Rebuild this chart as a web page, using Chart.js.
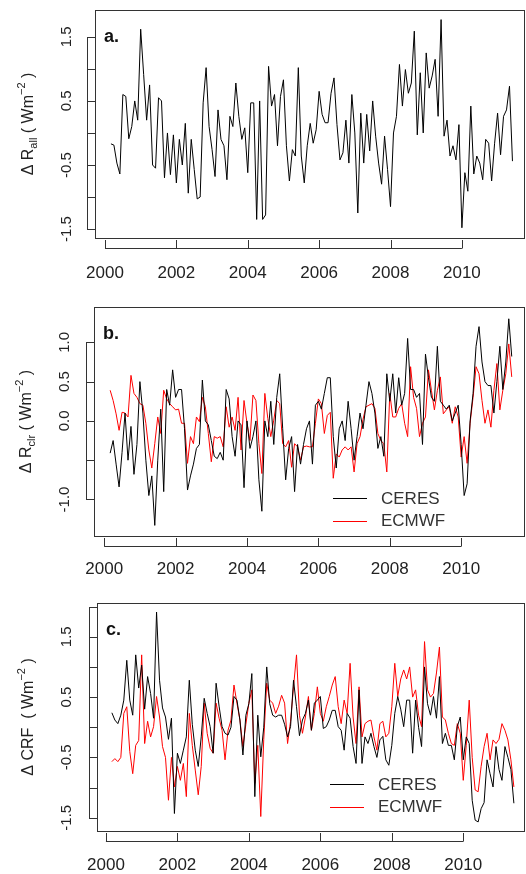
<!DOCTYPE html>
<html>
<head>
<meta charset="utf-8">
<script src="https://cdn.jsdelivr.net/npm/chart.js@4"></script>
<style>
  body { margin: 0; background: #fff; width: 526px; height: 874px; position: relative; overflow: hidden; }
  canvas { position: absolute; left: 0; }
</style>
</head>
<body>
<canvas id="pa" width="526" height="290" style="top:0"></canvas>
<canvas id="pb" width="526" height="290" style="top:290px"></canvas>
<canvas id="pc" width="526" height="294" style="top:580px"></canvas>
<script>
// monthly anomalies, Mar 2000 .. Jun 2011 (136 months)
const startYear = 2000, startMonth = 3;

// a. all-sky
const rAll = [
  -0.17, -0.19, -0.47, -0.64, 0.6, 0.57, -0.09, 0.1, 0.5, 0.2,
  1.62, 0.91, 0.2, 0.75, -0.5, -0.55, 0.55, 0.5, -0.7, 0.0, -0.65, -0.03,
  -0.78, -0.1, -0.5, 0.15, -0.94, -0.1, -0.57, -1.03, -1.0, 0.47, 1.02, 0.1,
  -0.26, -0.68, 0.36, -0.1, -0.2, -0.73, 0.26, 0.1, 0.78, 0.26, -0.1, 0.08,
  -0.62, 0.47, 0.47, -1.35, 0.5, -1.35, -1.28, 1.04, 0.42, 0.6, -0.2, 0.57,
  0.83, -0.2, -0.75, -0.26, -0.36, 1.02, -0.36, -0.78, -0.2, 0.15, -0.16, 0.05,
  0.65, 0.29, 0.16, 0.16, 0.62, 0.86, 0.13, -0.42, -0.31, 0.2, -0.47, 0.6,
  0.0, -1.25, 0.31, -0.47, 0.29, -0.28, 0.5, -0.05, -0.47, -0.8, -0.05, -0.57,
  -1.15, 0.0, 0.26, 1.07, 0.42, 0.99, 0.62, 0.78, 1.59, -0.03, 0.94, 0.0,
  1.25, 0.7, 0.89, 1.15, 0.26, 1.77, -0.05, 0.2, -0.36, -0.2, -0.42, 0.13,
  -1.48, -0.62, -0.91, 0.42, -0.64, -0.36, -0.47, -0.73, -0.1, -0.16, -0.75, -0.16,
  0.31, -0.34, 0.26, 0.36, 0.73, -0.44
];

// b. clear-sky
const clrCeres = [
  -0.41, -0.25, -0.55, -0.84, -0.4, 0.1, -0.5, -0.07, -0.68, -0.3,
  0.5, 0.1, -0.5, -0.95, -0.7, -1.33, -0.5, 0.15, -0.9, 0.4, 0.2, 0.65,
  0.3, 0.4, 0.4, -0.1, -0.88, -0.7, -0.55, -0.35, -0.3, 0.52, 0.0, -0.05,
  -0.25, -0.45, -0.48, -0.4, -0.5, 0.4, 0.28, -0.2, -0.45, 0.0, -0.05, -0.85,
  0.0, -0.35, -0.2, 0.0, -0.75, -1.15, 0.0, -0.2, 0.25, -0.3, 0.3, 0.6,
  -0.1, -0.75, -0.35, -0.2, -0.9, -0.3, -0.55, -0.3, -0.1, 0.0, -0.55, 0.2,
  0.25, 0.15, 0.35, 0.55, 0.55, -0.2, -0.6, -0.1, 0.0, -0.25, 0.25, -0.1,
  -0.5, -0.2, 0.1, -0.1, 0.2, 0.5, 0.35, 0.1, -0.35, -0.2, -0.45, 0.6,
  0.25, 0.6, 0.1, 0.55, 0.2, 0.35, 1.05, 0.4, 0.4, 0.3, 0.35, -0.3,
  0.85, 0.55, 0.3, 0.25, 0.95, 0.25, 0.2, 0.15, 0.2, 0.0, 0.1, 0.2,
  -0.3, -0.95, -0.8, 0.0, 0.35, 0.95, 1.2, 0.75, 0.5, 0.45, 0.45, 0.1,
  0.5, 0.95, 0.4, 0.75, 1.3, 0.82
];
const clrEcmwf = [
  0.39, 0.26, 0.09, -0.12, 0.11, 0.1, 0.05, 0.58, 0.35, 0.3,
  0.22, 0.2, -0.03, -0.37, -0.6, -0.29, 0.05, -0.16, 0.39, 0.28, 0.22, 0.18,
  0.14, 0.15, -0.03, -0.03, -0.54, -0.2, -0.29, 0.05, -0.01, 0.3, 0.18, -0.16,
  -0.52, -0.2, -0.22, -0.2, -0.33, 0.18, -0.08, 0.05, -0.12, 0.3, -0.37, 0.26,
  -0.03, -0.25, 0.33, 0.26, -0.29, -0.67, 0.35, 0.03, -0.2, 0.01, 0.26, 0.22,
  -0.29, -0.33, -0.25, -0.59, -0.29, -0.33, -0.5, -0.33, -0.32, -0.33, -0.33, -0.03,
  0.28, 0.22, -0.16, 0.07, 0.11, -0.73, -0.42, -0.46, -0.37, -0.33, -0.37, -0.33,
  -0.65, -0.29, -0.2, 0.02, 0.18, 0.2, 0.22, 0.16, -0.16, -0.25, -0.29, -0.65,
  0.35, 0.05, 0.05, 0.16, 0.22, -0.03, -0.2, 0.69, 0.3, 0.16, -0.2, -0.03,
  0.05, 0.65, 0.39, 0.14, 0.39, 0.56, 0.09, 0.14, 0.18, -0.03, 0.18, 0.05,
  -0.46, -0.2, -0.54, -0.03, 0.3, 0.69, 0.6, 0.26, -0.03, 0.14, -0.08, 0.39,
  0.73, 0.14, 0.39, 0.6, 0.98, 0.56
];

// c. cloud radiative forcing
const crfCeres = [
  0.24, 0.12, 0.06, 0.2, 0.45, 1.11, 0.45, 0.2, 1.2, 0.65,
  1.03, 0.3, 0.84, 0.56, 0.15, 1.91, 0.78, 0.32, 0.17, -0.2, 0.15, -1.43,
  -0.43, -0.6, -0.38, -0.16, 0.78, 0.05, -0.38, -0.65, -0.16, 0.48, 0.23, 0.01,
  -0.43, 0.73, 0.35, 0.01, -0.1, -0.13, 0.0, 0.51, 0.45, 0.12, -0.46, 0.2,
  0.39, 0.89, -1.15, 0.2, -0.49, 0.0, 1.0, 0.39, 0.2, 0.17, 0.2, 0.2,
  0.05, -0.16, 0.01, 0.78, 0.34, -0.14, 0.12, 0.23, 0.45, -0.05, 0.4, 0.45,
  0.51, -0.02, 0.01, 0.12, 0.28, 0.28, 0.01, -0.05, -0.38, 0.23, 0.15, -0.32,
  -0.6, 0.62, -0.6, -0.16, -0.27, -0.1, -0.32, -0.5, -0.21, -0.15, -0.54, -0.63,
  -0.3, 0.23, 0.51, 0.3, 0.01, 0.45, 0.45, -0.43, 0.45, 0.0, -0.32, 1.0,
  0.39, 0.2, 0.51, 0.15, 0.84, -0.27, -0.1, -0.3, -0.3, -0.54, 0.01, 0.17,
  -0.54, -0.16, -0.27, -1.21, -1.54, -1.57, -1.35, -1.25, -0.54, -0.77, -0.99, -0.32,
  -0.7, -0.88, -0.32, -0.5, -0.7, -1.26
];
const crfEcmwf = [
  -0.57, -0.52, -0.57, -0.5, 0.23, 0.34, -0.4, -0.77, -0.3, -0.22,
  1.2, -0.27, 0.1, -0.16, 0.01, 0.51, 0.17, -0.32, -0.5, -1.21, -0.5, -0.99,
  -0.65, -0.88, -0.6, -1.15, 0.23, -0.3, -0.71, -1.12, -0.65, 0.4, -0.1, -0.35,
  -0.43, 0.4, 0.15, -0.05, -0.54, -0.05, 0.12, 0.7, 0.4, 0.12, -0.32, 0.05,
  0.4, 0.62, -0.93, -0.3, -1.48, -0.2, 0.73, 0.45, 0.4, 0.23, 0.35, 0.53,
  0.4, -0.27, 0.1, 0.67, 1.2, 0.2, -0.1, 0.17, 0.51, -0.05, 0.23, 0.67,
  0.23, 0.1, 0.34, 0.51, 0.7, 0.84, 0.34, 0.06, 0.45, 0.23, 1.06, 0.17,
  -0.27, 0.67, -0.16, 0.06, 0.1, 0.12, -0.16, -0.38, 0.06, 0.1, -0.16, -0.1,
  0.34, 1.06, 0.51, 0.8, 0.95, 0.8, 1.0, 0.5, 0.62, 0.2, 0.01, 1.42,
  0.62, 0.5, 0.56, 0.9, 1.33, 0.17, 0.12, -0.1, -0.27, -0.3, 0.06, -0.1,
  -0.88, -0.3, 0.45, -0.5, -1.04, -1.07, -0.65, -0.32, -0.1, -0.54, -0.21, -0.27,
  -0.2, 0.06, -0.05, -0.21, -0.54, -0.99
];

const yearTicks = [2000, 2002, 2004, 2006, 2008, 2010];
const legendNames = ["CERES", "ECMWF"];

// decimal year of each month
const months = rAll.map((_, i) => startYear + (startMonth - 1 + i) / 12);

const font = '"Liberation Sans", Arial, sans-serif';

function drawTitle(ctx, parts, cx, cy) {
  ctx.save();
  ctx.translate(cx, cy);
  ctx.rotate(-Math.PI / 2);
  ctx.textAlign = "left";
  ctx.textBaseline = "alphabetic";
  const sized = parts.map(p => {
    ctx.font = (p.s ? 11 : 16) + "px " + font;
    return { ...p, w: ctx.measureText(p.t).width };
  });
  let px = -sized.reduce((s, p) => s + p.w, 0) / 2;
  sized.forEach(p => {
    ctx.font = (p.s ? 11 : 16) + "px " + font;
    const dy = p.s === "sub" ? 4 : p.s === "sup" ? -8 : 0;
    ctx.fillText(p.t, px, dy);
    px += p.w;
  });
  ctx.restore();
}

const rAxes = {
  id: "rAxes",
  afterDraw(chart, args, o) {
    const { ctx, chartArea: a, scales: { x, y } } = chart;
    ctx.save();
    ctx.strokeStyle = "#333";
    ctx.fillStyle = "#222";
    ctx.lineWidth = 1;
    ctx.strokeRect(a.left + 0.5, a.top + 0.5, a.right - a.left, a.bottom - a.top);

    // y axis, R style: line set off from the box, ticks pointing in
    const ax = a.left - 8;
    const yTop = Math.round(y.getPixelForValue(o.yTicks[o.yTicks.length - 1])) + 0.5;
    const yBot = Math.round(y.getPixelForValue(o.yTicks[0])) + 0.5;
    ctx.beginPath();
    ctx.moveTo(ax + 0.5, yTop); ctx.lineTo(ax + 0.5, yBot);
    o.yTicks.forEach(v => {
      const py = Math.round(y.getPixelForValue(v)) + 0.5;
      ctx.moveTo(ax, py); ctx.lineTo(a.left, py);
    });
    // x axis
    const ay = a.bottom + 10 + 0.5;
    ctx.moveTo(x.getPixelForValue(yearTicks[0]), ay);
    ctx.lineTo(x.getPixelForValue(yearTicks[yearTicks.length - 1]), ay);
    yearTicks.forEach(v => {
      const px = Math.round(x.getPixelForValue(v)) + 0.5;
      ctx.moveTo(px, ay); ctx.lineTo(px, a.bottom + 2);
    });
    ctx.stroke();

    ctx.font = "15px " + font;
    ctx.textAlign = "center";
    ctx.textBaseline = "middle";
    o.yLabels.forEach(v => {
      ctx.save();
      ctx.translate(o.yLabelX, y.getPixelForValue(v));
      ctx.rotate(-Math.PI / 2);
      ctx.fillText(v.toFixed(1), 0, 0);
      ctx.restore();
    });
    ctx.font = "17px " + font;
    yearTicks.forEach(v => ctx.fillText(String(v), x.getPixelForValue(v), o.xLabelY));

    drawTitle(ctx, o.title, o.titleX, (a.top + a.bottom) / 2);

    ctx.font = "bold 18px " + font;
    ctx.textAlign = "left";
    ctx.textBaseline = "alphabetic";
    ctx.fillStyle = "#111";
    ctx.fillText(o.tag, a.left + 9, a.top + 32);

    if (o.legend) {
      const colors = chart.data.datasets.map(d => d.borderColor);
      ctx.font = "17px " + font;
      ctx.textBaseline = "middle";
      legendNames.forEach((name, i) => {
        const ly = o.legend.y + i * 22.5;
        ctx.strokeStyle = colors[i];
        ctx.beginPath();
        ctx.moveTo(o.legend.x, Math.round(ly) + 0.5);
        ctx.lineTo(o.legend.x + 34, Math.round(ly) + 0.5);
        ctx.stroke();
        ctx.fillStyle = "#333";
        ctx.fillText(name, o.legend.x + 48, ly + 1);
      });
    }
    ctx.restore();
  }
};

function makePanel(id, series, p) {
  new Chart(document.getElementById(id), {
    type: "line",
    data: {
      datasets: series.map(s => ({
        data: s.values.map((v, i) => ({ x: months[i], y: v })),
        borderColor: s.color,
        borderWidth: 1,
        pointRadius: 0,
        tension: 0,
        fill: false
      }))
    },
    options: {
      responsive: false,
      animation: false,
      devicePixelRatio: 1,
      layout: { padding: p.pad },
      plugins: { legend: { display: false }, tooltip: { enabled: false }, rAxes: p },
      scales: {
        x: { type: "linear", min: p.xMin, max: p.xMax, display: false },
        y: { type: "linear", min: p.yMin, max: p.yMax, display: false }
      }
    },
    plugins: [rAxes]
  });
}

makePanel("pa", [{ values: rAll, color: "#000" }], {
  pad: { left: 95, right: 2, top: 10, bottom: 52 },
  xMin: 1999.72, xMax: 2011.74, yMin: -1.64, yMax: 1.92,
  yTicks: [-1.5, -1, -0.5, 0, 0.5, 1, 1.5],
  yLabels: [-1.5, -0.5, 0.5, 1.5],
  yLabelX: 67, xLabelY: 273, titleX: 33, tag: "a.",
  title: [{ t: "\u0394 R" }, { t: "all", s: "sub" }, { t: " ( Wm" }, { t: "\u22122", s: "sup" }, { t: " )" }]
});

makePanel("pb", [{ values: clrCeres, color: "#000" }, { values: clrEcmwf, color: "#ff0000" }], {
  pad: { left: 94, right: 2, top: 17, bottom: 44 },
  xMin: 1999.714, xMax: 2011.76, yMin: -1.465, yMax: 1.45,
  yTicks: [-1, -0.5, 0, 0.5, 1],
  yLabels: [-1, 0, 0.5, 1],
  yLabelX: 65, xLabelY: 279, titleX: 31, tag: "b.",
  title: [{ t: "\u0394 R" }, { t: "clr", s: "sub" }, { t: " ( Wm" }, { t: "\u22122", s: "sup" }, { t: " )" }],
  legend: { x: 333, y: 208 }
});

makePanel("pc", [{ values: crfCeres, color: "#000" }, { values: crfEcmwf, color: "#ff0000" }], {
  pad: { left: 97, right: 2, top: 23, bottom: 43 },
  xMin: 1999.75, xMax: 2011.70, yMin: -1.72, yMax: 2.06,
  yTicks: [-1.5, -1, -0.5, 0, 0.5, 1, 1.5, 2],
  yLabels: [-1.5, -0.5, 0.5, 1.5],
  yLabelX: 67, xLabelY: 285, titleX: 33, tag: "c.",
  title: [{ t: "\u0394 CRF  ( Wm" }, { t: "\u22122", s: "sup" }, { t: " )" }],
  legend: { x: 330, y: 204 }
});
</script>
</body>
</html>
